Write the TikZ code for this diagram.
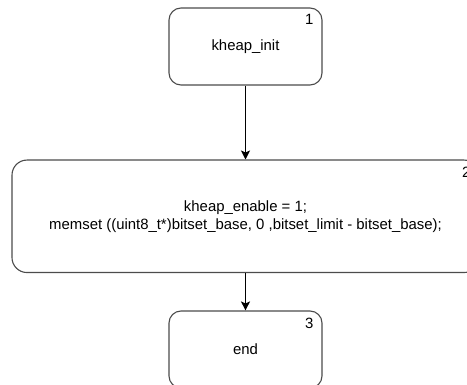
\documentclass[tikz,border=0pt]{standalone}
\usepackage{fontspec}
\setmainfont{Liberation Sans}
\usetikzlibrary{arrows.meta,calc}

\tikzset{
  stepbox/.style={draw=black!70, line width=1.1pt, fill=white, inner sep=0pt,
    align=center, font=\fontsize{14.9}{17.9}\selectfont},
  numlabel/.style={anchor=north east, inner sep=0pt, font=\fontsize{14.9}{17.9}\selectfont},
  flow/.style={draw=black, line width=1.1pt, -{Stealth[length=9pt,width=9pt,inset=2pt]}}
}

\begin{document}
\begin{tikzpicture}[x=1pt,y=-1pt]
  \useasboundingbox (0,0) rectangle (467,385);
  \clip (0,0) rectangle (467,385);

  % process steps
  \node[stepbox, rounded corners=12pt, minimum width=153pt, minimum height=77pt]
    (init) at (245.5,46.5) {kheap\_init};
  \node[stepbox, rounded corners=15pt, minimum width=467pt, minimum height=112.5pt]
    (enable) at (245.5,216.3)
    {kheap\_enable = 1;\\memset ((uint8\_t*)bitset\_base, 0 ,bitset\_limit - bitset\_base);};
  \node[stepbox, rounded corners=12pt, minimum width=153pt, minimum height=77pt]
    (finish) at (245.5,349.5) {end};

  % step numbers, tucked into the top right corner of each step
  \node[numlabel] (n1) at ($(init.north east)+(-9,7)$) {1};
  \node[numlabel] (n2) at ($(enable.north east)+(-9,7)$) {2};
  \node[numlabel] (n3) at ($(finish.north east)+(-9,7)$) {3};

  % connectors
  \draw[flow] (init) -- (enable);
  \draw[flow] (enable) -- (finish);
\end{tikzpicture}
\end{document}
